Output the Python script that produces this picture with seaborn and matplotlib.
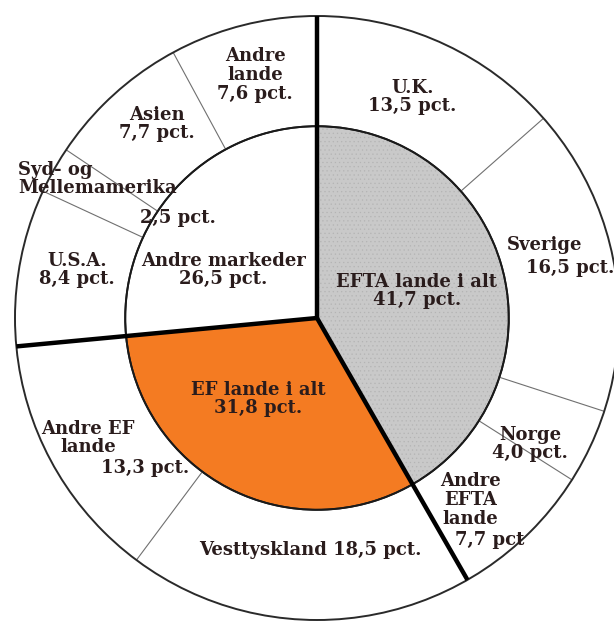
import matplotlib
matplotlib.use("Agg")
import matplotlib.pyplot as plt
import numpy as np
import seaborn as sns

# inner ring: market groups (pct. of export)
group_labels = ["EFTA lande i alt", "EF lande i alt", "Andre markeder"]
group_values = [41.7, 31.8, 26.5]

# outer ring: single markets, clockwise from the top
country_labels = ["U.K.", "Sverige", "Norge", "Andre EFTA lande", "Vesttyskland",
                  "Andre EF lande", "U.S.A.", "Syd- og Mellemamerika", "Asien", "Andre lande"]
country_values = [13.5, 16.5, 4.0, 7.7, 18.5, 13.3, 8.4, 2.5, 7.7, 7.6]

group_colors = ["#c9c9c9", "#f47b22", "#ffffff"]
text_color = "#2a1c1c"
inner_r = 0.635


def pct(v):
    return f"{v:.1f}".replace(".", ",") + " pct."


def ray(share, r0, r1, **style):
    ang = np.deg2rad(90 - 360 * share / 100)
    ax.plot([r0 * np.cos(ang), r1 * np.cos(ang)], [r0 * np.sin(ang), r1 * np.sin(ang)],
            solid_capstyle="butt", **style)


sns.set_style("white")
plt.rcParams["font.family"] = ["DejaVu Serif"]
plt.rcParams["hatch.linewidth"] = 0.4

fig = plt.figure(figsize=(6.14, 6.22), dpi=100)
ax = fig.add_axes([0, 0, 1, 1])

# outer ring, plain white fill; separators drawn below
ax.pie(np.array(country_values) / 100, radius=1.0, startangle=90, counterclock=False,
       normalize=False, colors=["white"] * len(country_values),
       wedgeprops=dict(width=1 - inner_r, linewidth=0))
for s in np.cumsum(country_values)[:-1]:
    ray(s, inner_r, 1.0, color="#707070", lw=0.8, zorder=3)

# inner pie
ax.pie(group_values, radius=inner_r, startangle=90, counterclock=False,
       colors=group_colors, wedgeprops=dict(edgecolor="#1a1a1a", linewidth=1.3))

# stipple on the EFTA wedge
tex, _ = ax.pie(group_values, radius=inner_r, startangle=90, counterclock=False,
                colors=["none"] * 3, wedgeprops=dict(edgecolor="none", linewidth=0))
tex[0].set_edgecolor("#b4b4b4")
tex[0].set_hatch("....")

ax.add_patch(plt.Circle((0, 0), 1.0, fill=False, ec="#2a2a2a", lw=1.4, zorder=4))
ax.add_patch(plt.Circle((0, 0), inner_r, fill=False, ec="#1a1a1a", lw=1.4, zorder=4))

# thick group separators
for b in np.concatenate([[0], np.cumsum(group_values)[:-1]]):
    ray(b, 0, 1.0, color="black", lw=3.2, zorder=5)

kw = dict(fontsize=13, fontweight="bold", color=text_color, ha="center", va="center",
          linespacing=1.05, zorder=6)

ax.text(-0.205, 0.805, "Andre\nlande\n" + pct(country_values[9]), **kw)
ax.text(0.315, 0.732, "U.K.\n" + pct(country_values[0]), **kw)
ax.text(-0.530, 0.642, "Asien\n" + pct(country_values[8]), **kw)
ax.text(-0.990, 0.460, "Syd- og\nMellemamerika", **{**kw, "ha": "left", "multialignment": "left"})
ax.text(-0.460, 0.331, pct(country_values[7]), **kw)
ax.text(-0.795, 0.159, "U.S.A.\n" + pct(country_values[6]), **kw)
ax.text(-0.311, 0.159, group_labels[2] + "\n" + pct(group_values[2]), **kw)
ax.text(0.755, 0.242, "Sverige", **kw)
ax.text(0.838, 0.166, pct(country_values[1]), **kw)
ax.text(0.331, 0.089, group_labels[0] + "\n" + pct(group_values[0]), **kw)
ax.text(-0.195, -0.268, group_labels[1] + "\n" + pct(group_values[1]), **kw)
ax.text(0.705, -0.417, "Norge\n" + pct(country_values[2]), **kw)
ax.text(-0.758, -0.397, "Andre EF\nlande", **kw)
ax.text(-0.570, -0.497, pct(country_values[5]), **kw)
ax.text(0.507, -0.603, "Andre\nEFTA\nlande", **kw)
ax.text(0.573, -0.735, pct(country_values[3]).rstrip("."), **kw)
ax.text(-0.023, -0.768, "Vesttyskland " + pct(country_values[4]), **kw)

cx, cy, R = 317, 318, 302
ax.set_xlim(-cx / R, (614 - cx) / R)
ax.set_ylim(-(622 - cy) / R, cy / R)
ax.set_aspect("equal", adjustable="datalim")
ax.axis("off")

fig.savefig("out.png", dpi=100, facecolor="white")
